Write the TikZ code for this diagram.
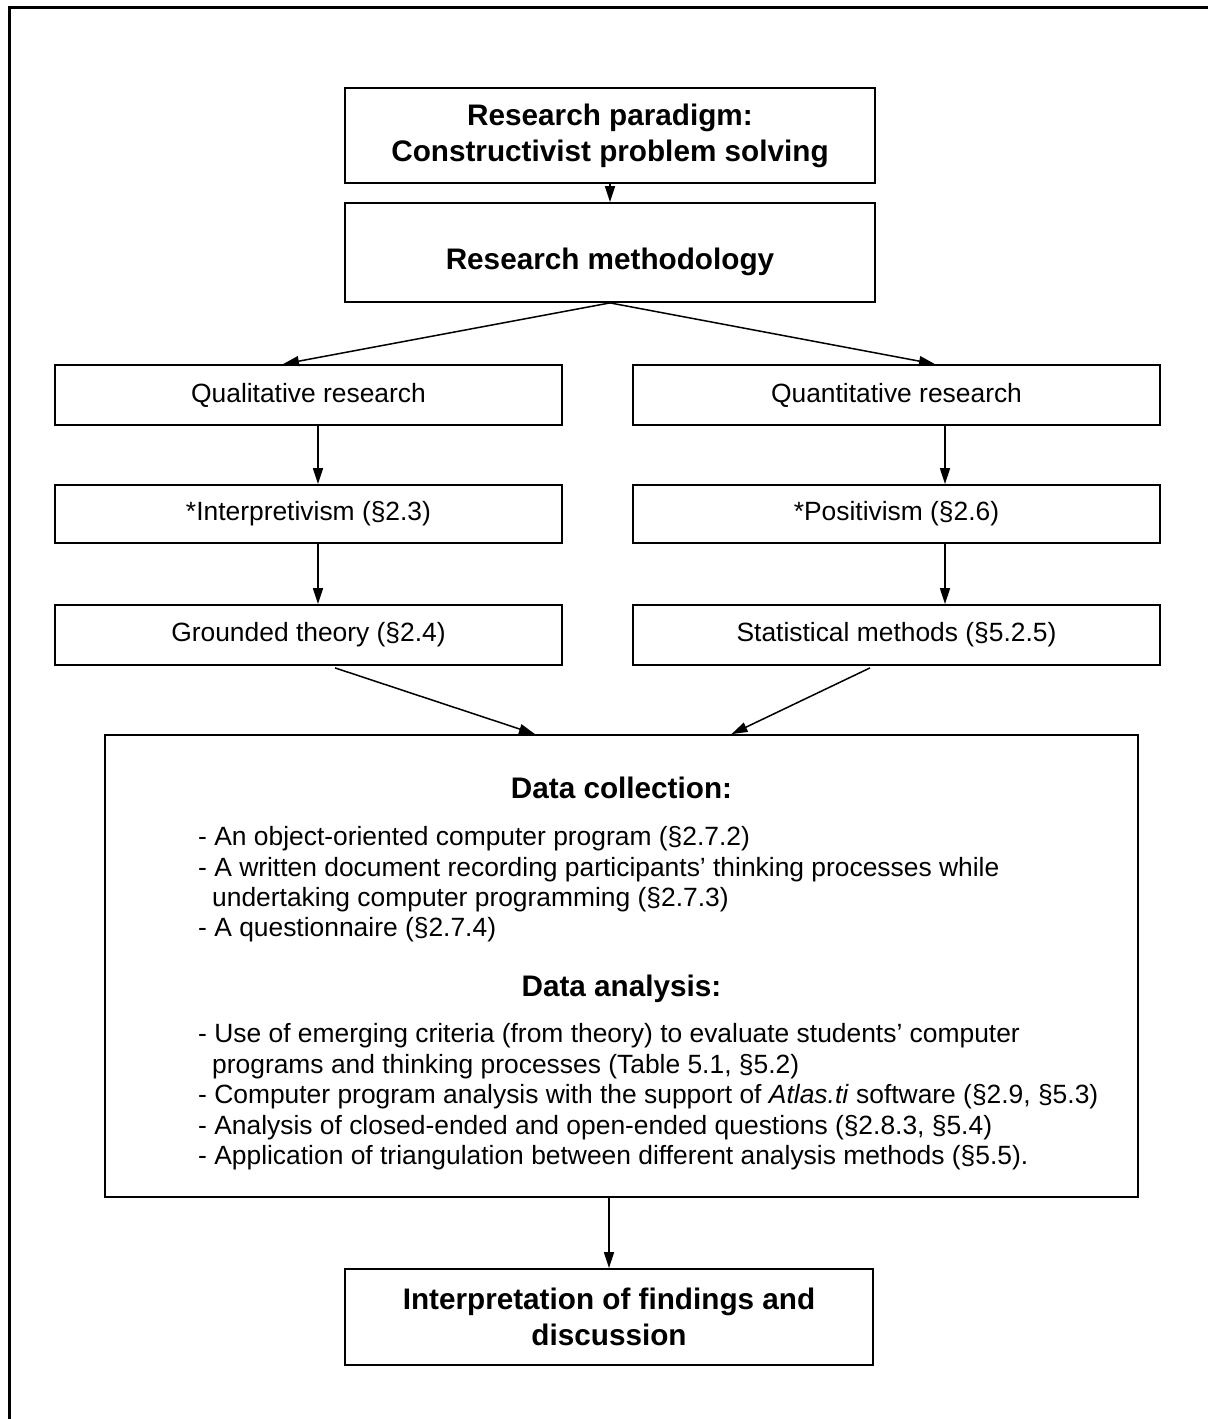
\documentclass[tikz,border=0pt]{standalone}
\usepackage{fontspec}
\setmainfont{Liberation Sans}
\usetikzlibrary{arrows.meta}
\begin{document}
\begin{tikzpicture}[x=1pt,y=-1pt,
  box/.style={draw, line width=1.8pt, inner sep=0pt, align=center},
  txt/.style={font=\fontsize{26.4}{30.4}\selectfont},
  hdr/.style={font=\fontsize{29.7}{36}\selectfont\bfseries},
  item/.style={txt, anchor=base west, inner sep=0pt},
  arr/.style={-{Triangle[length=16pt,width=10pt]}, line width=1.5pt},
]
\useasboundingbox (0,0) rectangle (1208,1419);

% outer frame (only its top and left edges lie on the page)
\draw[line width=3pt] (9,1419) -- (9,7) -- (1208,7);

% column guides for the vertical connectors
\coordinate (lcol) at (318,0);
\coordinate (rcol) at (945,0);

% top of the flow
\node[box,hdr,minimum width=530pt,minimum height=95pt] (par) at (610,135.5)
  {Research paradigm:\\Constructivist problem solving};
\node[box,minimum width=530pt,minimum height=99pt] (meth) at (610,252.5) {};
\node[hdr,inner sep=0pt] (methtext) at ([yshift=-9pt]meth.center) {Research methodology};

% two research strands
\node[box,txt,minimum width=507pt,minimum height=60pt] (qual)  at (308.5,395) {Qualitative research};
\node[box,txt,minimum width=527pt,minimum height=60pt] (quant) at (896.5,395) {Quantitative research};
\node[box,txt,minimum width=507pt,minimum height=58pt] (interp) at (308.5,514) {*Interpretivism (§2.3)};
\node[box,txt,minimum width=527pt,minimum height=58pt] (posit)  at (896.5,514) {*Positivism (§2.6)};
\node[box,txt,minimum width=507pt,minimum height=60pt] (ground) at (308.5,635) {Grounded theory (§2.4)};
\node[box,txt,minimum width=527pt,minimum height=60pt] (stat)   at (896.5,635) {Statistical methods (§5.2.5)};

% data collection and analysis
\node[box,minimum width=1033pt,minimum height=462pt] (data) at (621.5,966) {};
\node[hdr,anchor=base,inner sep=0pt] (dchead) at (621.5,798) {Data collection:};
\node[item] (dc1) at (198,845) {- An object-oriented computer program (§2.7.2)};
\node[item] (dc2) at (198,876) {- A written document recording participants’ thinking processes while};
\node[item] (dc3) at (212,906) {undertaking computer programming (§2.7.3)};
\node[item] (dc4) at (198,936) {- A questionnaire (§2.7.4)};
\node[hdr,anchor=base,inner sep=0pt] (dahead) at (621.5,996) {Data analysis:};
\node[item] (da1) at (198,1042) {- Use of emerging criteria (from theory) to evaluate students’ computer};
\node[item] (da2) at (212,1073) {programs and thinking processes (Table 5.1, §5.2)};
\node[item] (da3) at (198,1103) {- Computer program analysis with the support of \textit{Atlas.ti} software (§2.9, §5.3)};
\node[item] (da4) at (198,1134) {- Analysis of closed-ended and open-ended questions (§2.8.3, §5.4)};
\node[item] (da5) at (198,1164) {- Application of triangulation between different analysis methods (§5.5).};

% final step
\node[box,hdr,minimum width=528pt,minimum height=96pt] (fin) at (609,1317)
  {Interpretation of findings and\\discussion};

% connectors
\draw[arr] (par.south) -- (meth.north);
\draw[arr] (meth.south) -- ([xshift=-25.5pt]qual.north);
\draw[arr] (meth.south) -- ([xshift=38.5pt]quant.north);
\draw[arr] (qual.south -| lcol) -- (interp.north -| lcol);
\draw[arr] (interp.south -| lcol) -- (ground.north -| lcol);
\draw[arr] (quant.south -| rcol) -- (posit.north -| rcol);
\draw[arr] (posit.south -| rcol) -- (stat.north -| rcol);
\draw[arr] ([xshift=26.5pt,yshift=-2pt]ground.south) -- ([xshift=-86.5pt]data.north);
\draw[arr] ([xshift=-26.5pt,yshift=-2pt]stat.south) -- ([xshift=110pt]data.north);
\draw[arr] (data.south -| fin.north) -- (fin.north);
\end{tikzpicture}
\end{document}
